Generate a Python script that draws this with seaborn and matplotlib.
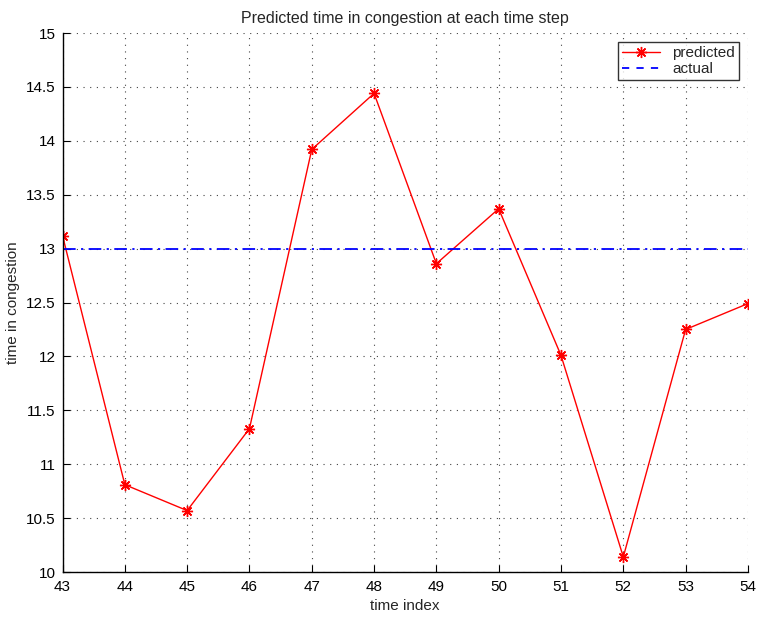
import matplotlib
matplotlib.use("Agg")
import matplotlib.pyplot as plt
import seaborn as sns
import pandas as pd

# time steps and predicted values
time_index = [43, 44, 45, 46, 47, 48, 49, 50, 51, 52, 53, 54]
predicted = [13.12, 10.81, 10.57, 11.33, 13.92, 14.44, 12.86, 13.37, 12.01, 10.14, 12.25, 12.49]
actual_value = 13.0

x_ticks = list(range(43, 55))
y_ticks = [10, 10.5, 11, 11.5, 12, 12.5, 13, 13.5, 14, 14.5, 15]
y_tick_labels = ["10", "10.5", "11", "11.5", "12", "12.5", "13", "13.5", "14", "14.5", "15"]

df = pd.DataFrame({"time index": time_index, "predicted": predicted,
                   "actual": [actual_value] * len(time_index)})

sns.set_theme(style="white")
plt.rcParams["font.family"] = ["Liberation Sans", "DejaVu Sans"]
plt.rcParams["font.size"] = 11

fig = plt.figure(figsize=(7.57, 6.18), dpi=100)
ax = fig.add_axes([0.0826, 0.0744, 0.9054, 0.8722])

sns.lineplot(data=df, x="time index", y="predicted", ax=ax, color="red",
             linewidth=1.0, marker=(8, 2, 0), markersize=8, markeredgewidth=1.0,
             markeredgecolor="red", label="predicted")
sns.lineplot(data=df, x="time index", y="actual", ax=ax, color="#0000ff",
             linewidth=1.3, linestyle="-.", label="actual")
ax.lines[-1].set_dashes([7, 3, 1.2, 3])

ax.set_xlim(43, 54)
ax.set_ylim(10, 15)
ax.set_xticks(x_ticks)
ax.set_yticks(y_ticks)
ax.set_yticklabels(y_tick_labels)

ax.grid(True, color="#444444", linestyle=(0, (1, 5)), linewidth=0.8)
for side in ["top", "right"]:
    ax.spines[side].set_visible(False)
for side in ["left", "bottom"]:
    ax.spines[side].set_color("black")
    ax.spines[side].set_linewidth(1.0)
ax.tick_params(direction="in", length=5, width=0.8, color="black",
               labelsize=11, labelcolor="black", left=True, bottom=True)
ax.tick_params(axis="x", pad=6)
ax.tick_params(axis="y", pad=5)

ax.set_title("Predicted time in congestion at each time step", fontsize=11.5, pad=7)
ax.set_xlabel("time index", fontsize=11, labelpad=3)
ax.set_ylabel("time in congestion", fontsize=11, labelpad=4)

leg = ax.legend(loc="upper right", fontsize=11, frameon=True, fancybox=False,
                borderaxespad=0.6, handlelength=2.5, borderpad=0.25, labelspacing=0.15)
leg.get_frame().set_edgecolor("black")
leg.get_frame().set_linewidth(1.0)
leg.get_lines()[1].set_dashes([4, 4])

fig.savefig("out.png", dpi=100)
